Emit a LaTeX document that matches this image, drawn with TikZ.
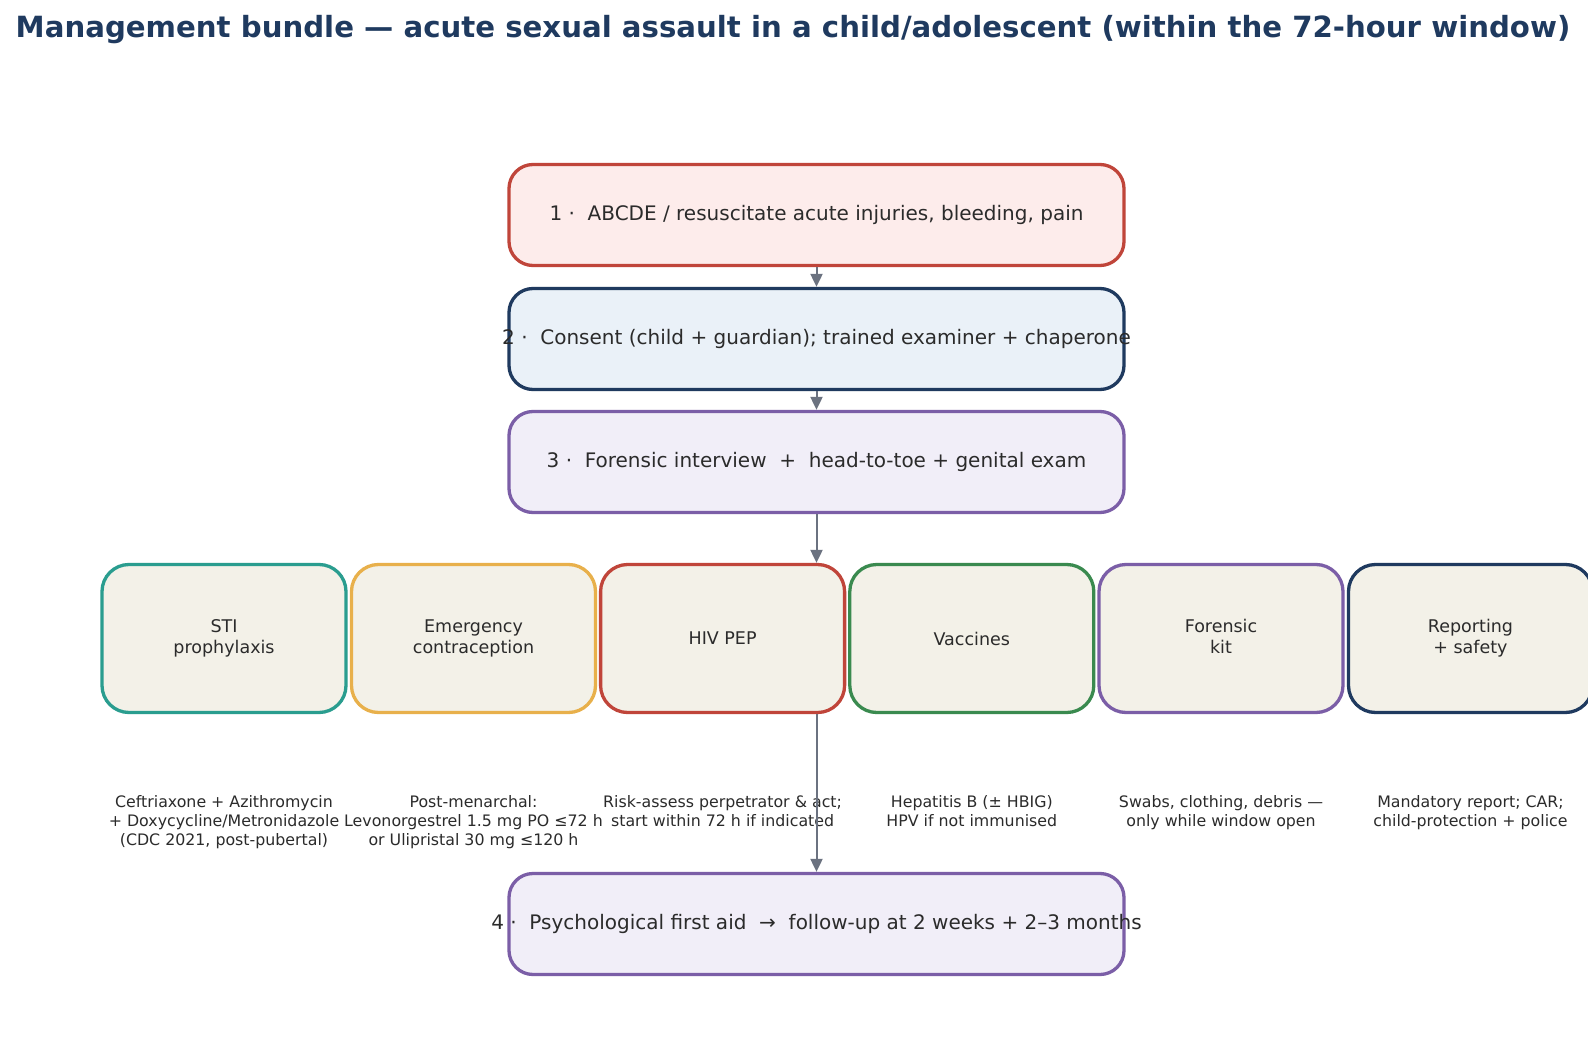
\documentclass[tikz,border=0pt]{standalone}
\usepackage{fontspec}
\setmainfont{DejaVu Sans}
\usetikzlibrary{arrows.meta}
\definecolor{titlec}{HTML}{1F3A5F}
\definecolor{textc}{HTML}{2B2B2B}
\definecolor{redc}{HTML}{C0453A}
\definecolor{redfill}{HTML}{FDECEB}
\definecolor{navyc}{HTML}{1F3A5F}
\definecolor{navyfill}{HTML}{EAF1F8}
\definecolor{purplec}{HTML}{7B5EA7}
\definecolor{purplefill}{HTML}{F1EEF8}
\definecolor{tealc}{HTML}{2A9D8F}
\definecolor{goldc}{HTML}{E8B04B}
\definecolor{greenc}{HTML}{3A8A4F}
\definecolor{beige}{HTML}{F3F1E8}
\definecolor{arrowc}{HTML}{6B7280}
\begin{document}
\begin{tikzpicture}[x=1pt,y=-1pt,
  bigbox/.style={draw, line width=3.3pt, rounded corners=24pt, minimum width=615pt, minimum height=101pt, inner sep=0pt, text=textc, font=\fontsize{20}{24}\selectfont},
  smallbox/.style={draw, line width=3.3pt, rounded corners=27pt, minimum width=244pt, minimum height=148pt, inner sep=0pt, fill=beige, text=textc, align=center, font=\fontsize{17.5}{21.3}\selectfont},
  note/.style={anchor=north, inner sep=0pt, align=center, text=textc, font=\fontsize{15.8}{19.3}\selectfont},
  flow/.style={draw=arrowc, line width=2pt, -{Triangle[length=13pt,width=12pt]}}]
\useasboundingbox (0,0) rectangle (1588,1062);
\fill[white] (0,0) rectangle (1588,1062);

\node[font=\fontsize{29.2}{34}\selectfont\bfseries, text=titlec, inner sep=0pt] (title) at (793,30)
  {Management bundle — acute sexual assault in a child/adolescent (within the 72-hour window)};

\node[bigbox, draw=redc, fill=redfill] (b1) at (816.5,215) {\makebox[0pt][c]{1 ·\ \ ABCDE / resuscitate acute injuries, bleeding, pain}};
\node[bigbox, draw=navyc, fill=navyfill] (b2) at (816.5,339) {\makebox[0pt][c]{2 ·\ \ Consent (child + guardian); trained examiner + chaperone}};
\node[bigbox, draw=purplec, fill=purplefill] (b3) at (816.5,462) {\makebox[0pt][c]{3 ·\ \ Forensic interview\ \ +\ \ head-to-toe + genital exam}};
\node[bigbox, draw=purplec, fill=purplefill] (b4) at (816.5,924) {\makebox[0pt][c]{4 ·\ \ Psychological first aid\ \ →\ \ follow-up at 2 weeks + 2–3 months}};

\node[smallbox, draw=tealc]   (c1) at (224,638.5)   {STI\\prophylaxis};
\node[smallbox, draw=goldc]   (c2) at (473.5,638.5) {Emergency\\contraception};
\node[smallbox, draw=redc]    (c3) at (722.6,638.5) {HIV PEP};
\node[smallbox, draw=greenc]  (c4) at (971.8,638.5) {Vaccines};
\node[smallbox, draw=purplec] (c5) at (1221,638.5)  {Forensic\\kit\vphantom{p}};
\node[smallbox, draw=navyc]   (c6) at (1470.5,638.5){Reporting\\+ safety};

\node[note] (n1) at (224,795)   {Ceftriaxone + Azithromycin\\+ Doxycycline/Metronidazole\\(CDC 2021, post-pubertal)};
\node[note] (n2) at (473.5,795) {Post-menarchal:\\Levonorgestrel 1.5 mg PO ≤72 h\\or Ulipristal 30 mg ≤120 h};
\node[note] (n3) at (722.6,795) {Risk-assess perpetrator \& act;\\start within 72 h if indicated};
\node[note] (n4) at (971.8,795) {Hepatitis B (± HBIG)\\HPV if not immunised};
\node[note] (n5) at (1221,795)  {Swabs, clothing, debris —\\only while window open};
\node[note] (n6) at (1470.5,795){Mandatory report; CAR;\\child-protection + police};

\coordinate (hivin) at (b3.south |- c3.north);
\coordinate (hivout) at (b3.south |- c3.south);
\draw[flow] (b1.south) -- (b2.north);
\draw[flow] (b2.south) -- (b3.north);
\draw[flow] (b3.south) -- (hivin);
\draw[flow] (hivout) -- (b4.north);
\end{tikzpicture}
\end{document}
